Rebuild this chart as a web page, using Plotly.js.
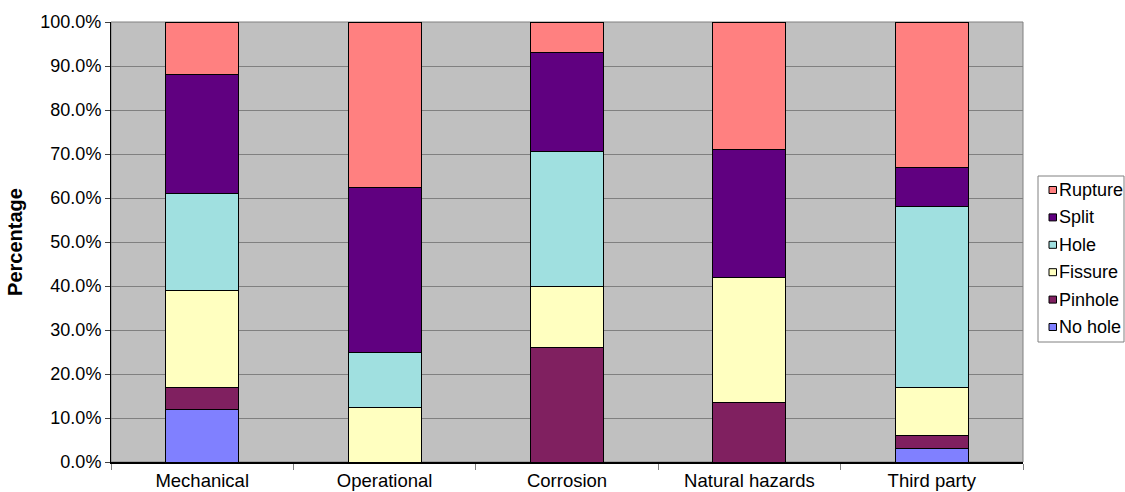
<!DOCTYPE html>
<html>
<head>
<meta charset="utf-8">
<script src="https://cdn.plot.ly/plotly-3.0.1.min.js"></script>
<style>
  html, body { margin: 0; padding: 0; background: #ffffff; }
  #chart { width: 1125px; height: 492px; }
</style>
</head>
<body>
<div id="chart"></div>
<script>
// Failure causes along the x axis
const categories = ['Mechanical', 'Operational', 'Corrosion', 'Natural hazards', 'Third party'];

// Share of each failure size per cause (percent), bottom to top of each stack
const noHole  = [12,   0,    0,    0,    3];
const pinhole = [5,    0,    26,   13.5, 3];
const fissure = [22,   12.5, 14,   28.5, 11];
const hole    = [22,   12.5, 30.5, 0,    41];
const split   = [27,   37.5, 22.5, 29,   9];
const rupture = [12,   37.5, 7,    29,   33];

const seriesNames  = ['No hole', 'Pinhole', 'Fissure', 'Hole', 'Split', 'Rupture'];
const seriesValues = [noHole, pinhole, fissure, hole, split, rupture];
const seriesColors = ['#8080FF', '#802060', '#FFFFC0', '#A0E0E0', '#600080', '#FF8080'];

const FONT = 'Liberation Sans, Arial, sans-serif';

const traces = seriesNames.map((name, i) => ({
  type: 'bar',
  name: name,
  x: categories,
  y: seriesValues[i],
  marker: { color: seriesColors[i], line: { color: '#000000', width: 1 } },
  hoverinfo: 'x+y+name'
}));

// Page geometry in pixels, used to place the legend box outside the plot area
const W = 1125, H = 492;
const M = { l: 111, r: 102, t: 22, b: 30 };
const plotW = W - M.l - M.r, plotH = H - M.t - M.b;
const px2x = px => (px - M.l) / plotW;
const px2y = py => (H - M.b - py) / plotH;

const shapes = [
  // plot area fill with its thin grey frame
  { type: 'rect', xref: 'paper', yref: 'paper', x0: 0, x1: 1, y0: 0, y1: 1,
    fillcolor: '#C0C0C0', line: { color: '#808080', width: 1 }, layer: 'below' },
  // legend frame
  { type: 'rect', xref: 'paper', yref: 'paper',
    x0: px2x(1038), x1: px2x(1124), y0: px2y(342), y1: px2y(176),
    fillcolor: '#FFFFFF', line: { color: '#808080', width: 1 }, layer: 'above' }
];
const annotations = [];

// Legend entries, top entry is the top of the stack
const order = seriesNames.map((_, i) => i).reverse();
order.forEach((si, row) => {
  const cy = 190 + row * 27.4;
  shapes.push({
    type: 'rect', xref: 'paper', yref: 'paper',
    x0: px2x(1049), x1: px2x(1056.5), y0: px2y(cy + 3.5), y1: px2y(cy - 3.5),
    fillcolor: seriesColors[si], line: { color: '#000000', width: 1 }, layer: 'above'
  });
  annotations.push({
    xref: 'paper', yref: 'paper', x: px2x(1057), y: px2y(cy),
    xanchor: 'left', yanchor: 'middle', showarrow: false,
    text: seriesNames[si], font: { family: FONT, size: 18, color: '#000000' }
  });
});

const layout = {
  width: W, height: H,
  margin: { l: M.l, r: M.r, t: M.t, b: M.b, pad: 0, autoexpand: false },
  barmode: 'stack',
  bargap: 0.6,
  paper_bgcolor: '#FFFFFF',
  plot_bgcolor: 'rgba(0,0,0,0)',
  showlegend: false,
  font: { family: FONT, size: 18, color: '#000000' },
  xaxis: {
    type: 'category',
    showline: true, linecolor: '#000000', linewidth: 1.5,
    ticks: 'outside', tickson: 'boundaries', ticklen: 6, tickcolor: '#808080', tickwidth: 1,
    ticklabelstandoff: 1,
    showgrid: false, zeroline: false,
    tickfont: { family: FONT, size: 18.5, color: '#000000' },
    automargin: false
  },
  yaxis: {
    range: [0, 100], dtick: 10, tick0: 0,
    tickformat: '.1f', ticksuffix: '%',
    showline: true, linecolor: '#000000', linewidth: 1,
    ticks: 'outside', ticklen: 5, tickcolor: '#404040',
    showgrid: true, gridcolor: '#808080', gridwidth: 1,
    zeroline: false,
    tickfont: { family: FONT, size: 18, color: '#000000' },
    title: { text: '<b>Percentage</b>', font: { family: FONT, size: 20, color: '#000000' }, standoff: 12 },
    automargin: false
  },
  shapes: shapes,
  annotations: annotations
};

Plotly.newPlot('chart', traces, layout, { displayModeBar: false, staticPlot: true });
</script>
</body>
</html>
